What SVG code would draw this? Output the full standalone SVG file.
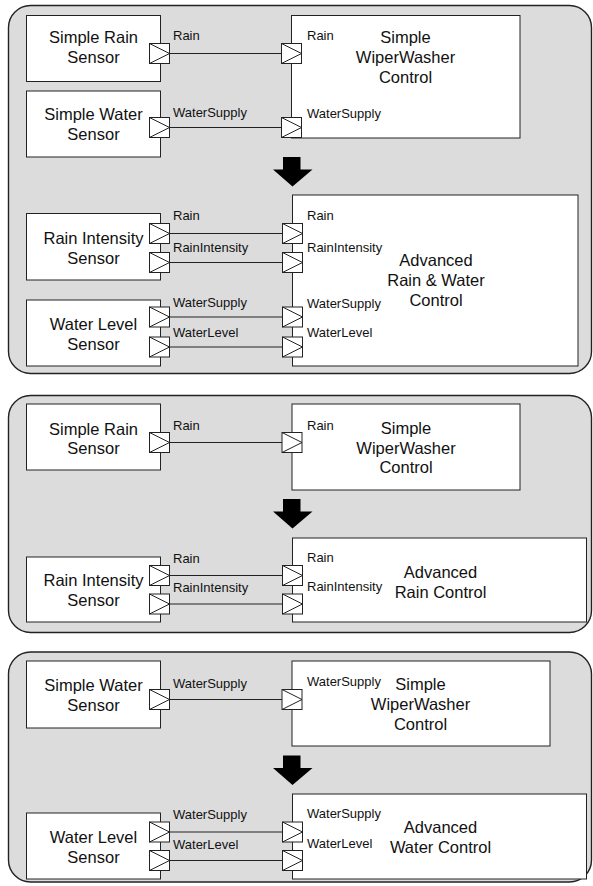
<svg xmlns="http://www.w3.org/2000/svg" xmlns:xlink="http://www.w3.org/1999/xlink" width="593" height="886" viewBox="0 0 593 886">
  <style>
    .panel { fill: #dcdcdc; stroke: #222; stroke-width: 1.4; }
    .box { fill: #fff; stroke: #222; stroke-width: 1; }
    .wire { stroke: #222; stroke-width: 1; fill: none; }
    .title { font-family: "Liberation Sans", Arial, sans-serif; font-size: 16.5px; fill: #111; text-anchor: middle; }
    .plabel { font-family: "Liberation Sans", Arial, sans-serif; font-size: 13px; fill: #111; }
  </style>
  <defs>
    <!-- flow port: white square with a right-pointing triangle -->
    <g id="port">
      <rect x="0" y="0" width="20" height="20" fill="#fff" stroke="#222" stroke-width="1"/>
      <path d="M0,0 L20,10 L0,20" fill="none" stroke="#222" stroke-width="1"/>
    </g>
    <!-- thick downward replacement arrow -->
    <polygon id="down-arrow" points="283,0 300.5,0 300.5,12.5 312.5,12.5 292.5,29.5 273,12.5 283,12.5" fill="#000"/>
  </defs>

  <!-- ===================== panel 1 ===================== -->
  <rect class="panel" x="8.5" y="5.5" width="583" height="368" rx="22" ry="22"/>

  <g id="p1-simple-rain-sensor">
    <rect class="box" x="26.5" y="15.5" width="134" height="66"/>
    <text class="title" x="93.5" y="43">Simple Rain</text>
    <text class="title" x="93.5" y="63">Sensor</text>
    <use href="#port" x="149.5" y="43.5"/>
    <text class="plabel" x="173" y="40">Rain</text>
  </g>
  <g id="p1-simple-water-sensor">
    <rect class="box" x="26.5" y="91" width="134" height="66"/>
    <text class="title" x="93.5" y="120">Simple Water</text>
    <text class="title" x="93.5" y="139.5">Sensor</text>
    <use href="#port" x="149.5" y="117.5"/>
    <text class="plabel" x="173" y="116.5">WaterSupply</text>
  </g>
  <g id="p1-simple-wiperwasher-control">
    <rect class="box" x="291.5" y="15.5" width="228.5" height="122.5"/>
    <text class="title" x="405.5" y="43">Simple</text>
    <text class="title" x="405.5" y="63">WiperWasher</text>
    <text class="title" x="405.5" y="83">Control</text>
    <use href="#port" x="281.5" y="43.5"/>
    <use href="#port" x="281.5" y="117.5"/>
    <text class="plabel" x="307" y="40">Rain</text>
    <text class="plabel" x="307" y="118">WaterSupply</text>
  </g>
  <use href="#down-arrow" x="0" y="157"/>
  <g id="p1-rain-intensity-sensor">
    <rect class="box" x="26.5" y="213.5" width="134" height="66.5"/>
    <text class="title" x="93.5" y="244">Rain Intensity</text>
    <text class="title" x="93.5" y="263.5">Sensor</text>
    <use href="#port" x="149.5" y="223.5"/>
    <use href="#port" x="149.5" y="252.5"/>
    <text class="plabel" x="173" y="220">Rain</text>
    <text class="plabel" x="173" y="251.5">RainIntensity</text>
  </g>
  <g id="p1-water-level-sensor">
    <rect class="box" x="26.5" y="300" width="134" height="66"/>
    <text class="title" x="93.5" y="330">Water Level</text>
    <text class="title" x="93.5" y="349.5">Sensor</text>
    <use href="#port" x="149.5" y="307"/>
    <use href="#port" x="149.5" y="337"/>
    <text class="plabel" x="173" y="306.5">WaterSupply</text>
    <text class="plabel" x="173" y="336.5">WaterLevel</text>
  </g>
  <g id="p1-advanced-rain-water-control">
    <rect class="box" x="292.5" y="195" width="285.5" height="171"/>
    <text class="title" x="436" y="266">Advanced</text>
    <text class="title" x="436" y="286">Rain &amp; Water</text>
    <text class="title" x="436" y="306">Control</text>
    <use href="#port" x="282.5" y="223.5"/>
    <use href="#port" x="282.5" y="252.5"/>
    <use href="#port" x="282.5" y="307"/>
    <use href="#port" x="282.5" y="337"/>
    <text class="plabel" x="307" y="220">Rain</text>
    <text class="plabel" x="307" y="251.5">RainIntensity</text>
    <text class="plabel" x="307" y="307.5">WaterSupply</text>
    <text class="plabel" x="307" y="337">WaterLevel</text>
  </g>

  <!-- ===================== panel 2 ===================== -->
  <rect class="panel" x="8.5" y="395.5" width="583" height="237" rx="22" ry="22"/>

  <g id="p2-simple-rain-sensor">
    <rect class="box" x="26.5" y="404" width="134" height="66"/>
    <text class="title" x="93.5" y="434.5">Simple Rain</text>
    <text class="title" x="93.5" y="454">Sensor</text>
    <use href="#port" x="149.5" y="432.5"/>
    <text class="plabel" x="173" y="430">Rain</text>
  </g>
  <g id="p2-simple-wiperwasher-control">
    <rect class="box" x="292" y="404" width="228" height="86"/>
    <text class="title" x="406" y="434">Simple</text>
    <text class="title" x="406" y="453.5">WiperWasher</text>
    <text class="title" x="406" y="473">Control</text>
    <use href="#port" x="282" y="432.5"/>
    <text class="plabel" x="307" y="430">Rain</text>
  </g>
  <use href="#down-arrow" x="0" y="499"/>
  <g id="p2-rain-intensity-sensor">
    <rect class="box" x="26.5" y="557" width="134" height="65"/>
    <text class="title" x="93.5" y="586">Rain Intensity</text>
    <text class="title" x="93.5" y="605.5">Sensor</text>
    <use href="#port" x="149.5" y="565.5"/>
    <use href="#port" x="149.5" y="594"/>
    <text class="plabel" x="173" y="562.5">Rain</text>
    <text class="plabel" x="173" y="591.5">RainIntensity</text>
  </g>
  <g id="p2-advanced-rain-control">
    <rect class="box" x="292.5" y="538" width="294" height="84"/>
    <text class="title" x="440.5" y="578">Advanced</text>
    <text class="title" x="440.5" y="598">Rain Control</text>
    <use href="#port" x="282.5" y="565.5"/>
    <use href="#port" x="282.5" y="594"/>
    <text class="plabel" x="307" y="562">Rain</text>
    <text class="plabel" x="307" y="591">RainIntensity</text>
  </g>

  <!-- ===================== panel 3 ===================== -->
  <rect class="panel" x="8.5" y="652" width="583" height="230" rx="22" ry="22"/>

  <g id="p3-simple-water-sensor">
    <rect class="box" x="26.5" y="661" width="134" height="67"/>
    <text class="title" x="93.5" y="691">Simple Water</text>
    <text class="title" x="93.5" y="711">Sensor</text>
    <use href="#port" x="149.5" y="689.5"/>
    <text class="plabel" x="173" y="688">WaterSupply</text>
  </g>
  <g id="p3-simple-wiperwasher-control">
    <rect class="box" x="292" y="661" width="258" height="85"/>
    <text class="title" x="420.5" y="690">Simple</text>
    <text class="title" x="420.5" y="710">WiperWasher</text>
    <text class="title" x="420.5" y="730">Control</text>
    <use href="#port" x="282" y="689.5"/>
    <text class="plabel" x="307" y="686">WaterSupply</text>
  </g>
  <use href="#down-arrow" x="0" y="755.5"/>
  <g id="p3-water-level-sensor">
    <rect class="box" x="26.5" y="813" width="134" height="66"/>
    <text class="title" x="93.5" y="843">Water Level</text>
    <text class="title" x="93.5" y="862.5">Sensor</text>
    <use href="#port" x="149.5" y="822"/>
    <use href="#port" x="149.5" y="850.5"/>
    <text class="plabel" x="173" y="819">WaterSupply</text>
    <text class="plabel" x="173" y="849">WaterLevel</text>
  </g>
  <g id="p3-advanced-water-control">
    <rect class="box" x="292.5" y="794" width="294" height="85"/>
    <text class="title" x="440.5" y="833">Advanced</text>
    <text class="title" x="440.5" y="853">Water Control</text>
    <use href="#port" x="282.5" y="822"/>
    <use href="#port" x="282.5" y="850.5"/>
    <text class="plabel" x="307" y="818">WaterSupply</text>
    <text class="plabel" x="307" y="848">WaterLevel</text>
  </g>

  <!-- port-to-port connectors -->
  <g id="connectors" class="wire">
    <line x1="169.5" y1="53.5" x2="281.5" y2="53.5"/>
    <line x1="169.5" y1="127.5" x2="281.5" y2="127.5"/>
    <line x1="169.5" y1="233.5" x2="282.5" y2="233.5"/>
    <line x1="169.5" y1="262.5" x2="282.5" y2="262.5"/>
    <line x1="169.5" y1="317" x2="282.5" y2="317"/>
    <line x1="169.5" y1="347" x2="282.5" y2="347"/>
    <line x1="169.5" y1="442.5" x2="282" y2="442.5"/>
    <line x1="169.5" y1="575.5" x2="282.5" y2="575.5"/>
    <line x1="169.5" y1="604" x2="282.5" y2="604"/>
    <line x1="169.5" y1="699.5" x2="282" y2="699.5"/>
    <line x1="169.5" y1="832" x2="282.5" y2="832"/>
    <line x1="169.5" y1="860.5" x2="282.5" y2="860.5"/>
  </g>
</svg>
